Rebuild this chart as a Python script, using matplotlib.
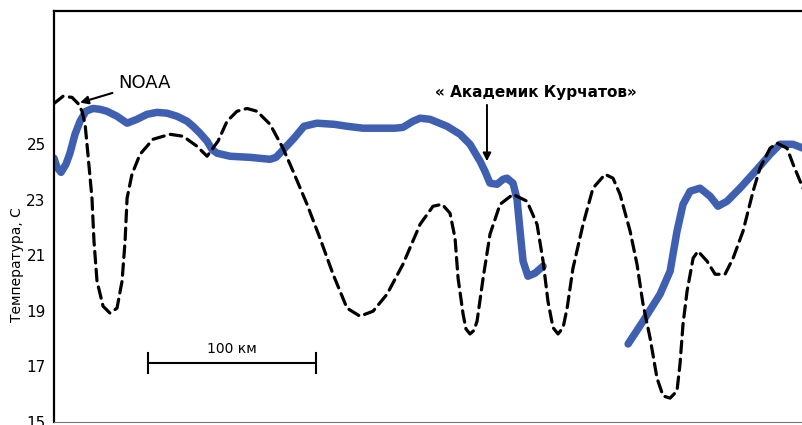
import numpy as np
import matplotlib
matplotlib.use("Agg")
import matplotlib.pyplot as plt

# distance along track, km ; temperature, C
noaa_km = [0, 5.4, 10.7, 14.3, 16.7, 18.5, 20.2, 22.6, 23.8, 25.6, 29.2, 33.3, 37.5,
           40.5, 42.3, 43.5, 46.4, 51.2, 58.9, 69.0, 76.8, 85.1, 91.1, 97.6, 103.0,
           108.9, 114.9, 120.8, 128.6, 136.3, 142.3, 150.6, 158.3, 166.1, 174.4,
           182.1, 189.9, 198.2, 207.7, 217.9, 225.6, 231.0, 235.7, 238.7, 240.5,
           243.5, 245.2, 247.6, 250.0, 251.8, 255.4, 259.5, 265.5, 273.2, 281.5,
           287.5, 291.1, 294.0, 297.0, 300.0, 303.0, 305.4, 308.9, 314.9, 320.8,
           328.0, 332.7, 336.9, 342.9, 347.0, 350.6, 354.8, 358.9, 362.5, 366.7,
           370.8, 372.6, 374.4, 376.8, 380.4, 383.3, 388.7, 393.5, 399.4, 404.2,
           410.1, 416.1, 420.2, 426.2, 430.4, 436.3, 439.9, 445.8]
noaa_t = [26.47, 26.73, 26.69, 26.47, 26.19, 25.72, 24.64, 23.06, 21.51, 20.07, 19.17,
          18.92, 19.10, 20.07, 21.51, 23.06, 23.92, 24.64, 25.18, 25.36, 25.29, 24.93,
          24.57, 25.11, 25.83, 26.19, 26.29, 26.19, 25.72, 24.86, 24.03, 22.84, 21.62,
          20.32, 19.10, 18.81, 18.99, 19.60, 20.68, 22.12, 22.77, 22.84, 22.52, 21.62,
          20.18, 18.88, 18.35, 18.17, 18.30, 18.63, 20.18, 21.76, 22.84, 23.20, 22.95,
          22.12, 20.79, 19.35, 18.40, 18.17, 18.40, 19.10, 20.54, 22.12, 23.42,
          23.92, 23.78, 23.20, 21.87, 20.68, 19.24, 18.02, 16.58, 15.94, 15.86,
          16.12, 17.09, 18.53, 19.71, 20.90, 21.15, 20.79, 20.32, 20.32, 20.90,
          21.87, 23.31, 24.14, 24.86, 25.04, 24.86, 24.28, 23.42]

ship1_km = [0, 1.8, 4.2, 7.1, 9.5, 12.5, 15.5, 19.0, 23.2, 27.4, 31.5, 37.5, 43.5,
            49.4, 55.4, 61.3, 67.3, 73.2, 79.2, 82.7, 86.9, 91.1, 94.0, 97.0, 104.8,
            116.7, 128.6, 132.1, 134.5, 142.9, 148.8, 156.5, 166.7, 174.4, 183.9,
            194.0, 203.0, 207.7, 213.7, 217.9, 223.8, 233.9, 241.7, 247.6, 253.6,
            256.5, 259.5, 263.7, 267.3, 269.6, 273.2, 275.6, 277.4, 279.2, 282.1,
            286.3, 291.1]
ship1_t = [24.50, 24.17, 23.99, 24.28, 24.68, 25.36, 25.83, 26.19, 26.29, 26.26, 26.19,
           26.01, 25.76, 25.90, 26.08, 26.15, 26.12, 26.01, 25.83, 25.65, 25.40, 25.11,
           24.82, 24.68, 24.57, 24.53, 24.46, 24.53, 24.68, 25.22, 25.65, 25.76, 25.72,
           25.65, 25.58, 25.58, 25.58, 25.61, 25.83, 25.94, 25.90, 25.65, 25.36, 25.00,
           24.39, 24.03, 23.60, 23.56, 23.74, 23.78, 23.60, 23.02, 21.87, 20.79, 20.25,
           20.36, 20.61]

ship2_km = [341.7, 350.6, 360.7, 366.7, 370.8, 374.4, 378.6, 384.5, 390.5, 395.2,
            400.6, 408.3, 418.5, 426.2, 432.1, 439.9, 445.8]
ship2_t = [17.81, 18.63, 19.60, 20.43, 21.87, 22.84, 23.31, 23.42, 23.13, 22.77, 22.95,
           23.42, 24.10, 24.64, 25.00, 25.00, 24.86]

yticks = [15, 17, 19, 21, 23, 25]
scale_km = 100

fig = plt.figure(figsize=(8.03, 4.25), dpi=100)
ax = fig.add_axes([54 / 803, 3 / 425, 749 / 803, 411 / 425])

blue = "#3f5fb0"
ax.plot(ship1_km, ship1_t, color=blue, lw=5.4, solid_capstyle="round",
        solid_joinstyle="round", zorder=2)
ax.plot(ship2_km, ship2_t, color=blue, lw=5.4, solid_capstyle="round",
        solid_joinstyle="round", zorder=2)
ax.plot(noaa_km, noaa_t, color="black", lw=2.3, dashes=(3.6, 2.0),
        dash_capstyle="round", zorder=3)

ax.set_xlim(0, 445.8)
ax.set_ylim(15, 29.8)
ax.set_xticks([])
ax.set_yticks(yticks)
ax.set_yticklabels([str(v) for v in yticks], fontsize=11)
ax.tick_params(axis="y", length=0, pad=6)

for s in ["left", "top"]:
    ax.spines[s].set_linewidth(1.6)
ax.spines["right"].set_visible(False)
ax.spines["bottom"].set_linewidth(0.8)
ax.spines["bottom"].set_color("#777777")

ax.text(-0.049, 0.382, "Температура, С", transform=ax.transAxes, rotation=90,
        ha="center", va="center", fontsize=10)

# NOAA label
ax.annotate("NOAA", xy=(15.5, 26.5), xytext=(38, 27.19), fontsize=13,
            ha="left", va="center",
            arrowprops=dict(arrowstyle="-|>", color="black", lw=1.5,
                            mutation_scale=12, shrinkA=2, shrinkB=0))

# ship label
ax.annotate("", xy=(257.7, 24.39), xytext=(257.7, 26.42),
            arrowprops=dict(arrowstyle="-|>", color="black", lw=1.4,
                            mutation_scale=12, shrinkA=0, shrinkB=0))
ax.text(286.9, 26.87, "\u00ab Академик Курчатов\u00bb", ha="center", va="center",
        fontsize=11, fontweight="bold")

# scale bar
x0 = 56
ax.plot([x0, x0 + scale_km], [17.12, 17.12], color="black", lw=1.5)
ax.plot([x0, x0], [16.76, 17.48], color="black", lw=1.5)
ax.plot([x0 + scale_km, x0 + scale_km], [16.76, 17.48], color="black", lw=1.5)
ax.text(x0 + scale_km / 2, 17.63, "100 км", ha="center", va="center", fontsize=10)

fig.savefig("out.png", dpi=100)
